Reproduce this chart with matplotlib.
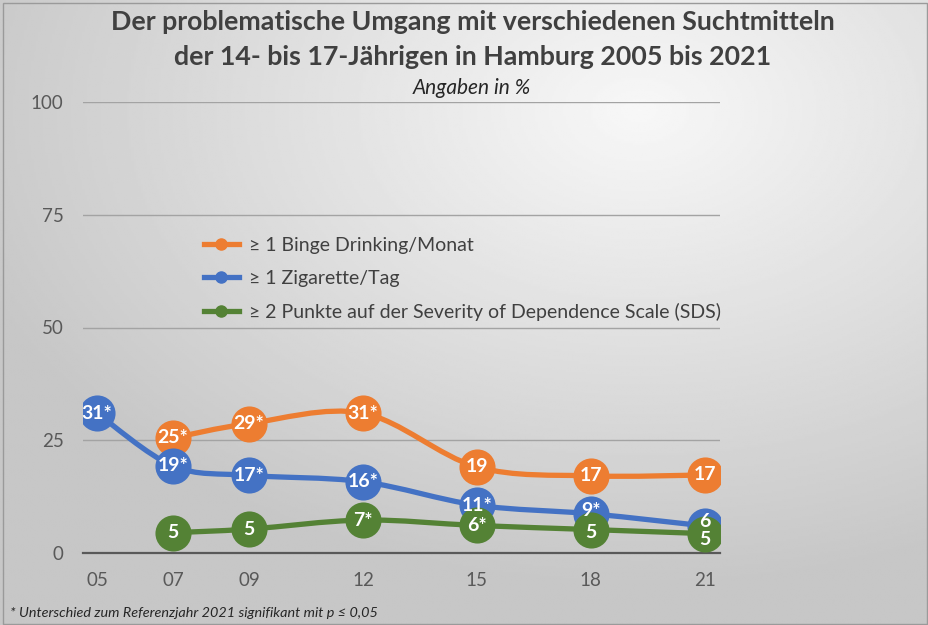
import numpy as np
import matplotlib
matplotlib.use("Agg")
import matplotlib.pyplot as plt
from matplotlib.path import Path
from matplotlib.patches import PathPatch, Rectangle
from matplotlib.lines import Line2D
import matplotlib.transforms as mtransforms

plt.rcParams['font.family'] = ['Lato', 'DejaVu Sans']

# Data (survey years, values in %)
years = [2005, 2007, 2009, 2012, 2015, 2018, 2021]
year_labels = ['05', '07', '09', '12', '15', '18', '21']

binge_years = [2007, 2009, 2012, 2015, 2018, 2021]
binge = [25.5, 28.7, 31.0, 19.1, 17.1, 17.3]
binge_labels = ['25*', '29*', '31*', '19', '17', '17']

cig_years = [2005, 2007, 2009, 2012, 2015, 2018, 2021]
cig = [31.0, 19.3, 17.2, 15.8, 10.6, 8.7, 6.0]
cig_labels = ['31*', '19*', '17*', '16*', '11*', '9*', '6']

sds_years = [2007, 2009, 2012, 2015, 2018, 2021]
sds = [4.5, 5.3, 7.3, 6.1, 5.2, 4.3]
sds_labels = ['5', '5', '7*', '6*', '5', '5']

c_orange = '#ED7D31'
c_blue = '#4472C4'
c_green = '#548235'
c_text = '#595959'


def smooth_path(xs, ys):
    # Excel-like smoothed line: Catmull-Rom segments as cubic Bezier curves
    p = np.column_stack([xs, ys]).astype(float)
    n = len(p)
    verts = [p[0]]
    codes = [Path.MOVETO]
    for i in range(n - 1):
        p0 = p[i - 1] if i > 0 else p[i]
        p3 = p[i + 2] if i + 2 < n else p[i + 1]
        c1 = p[i] + (p[i + 1] - p0) / 6.0
        c2 = p[i + 1] - (p3 - p[i]) / 6.0
        verts += [c1, c2, p[i + 1]]
        codes += [Path.CURVE4] * 3
    return Path(verts, codes)


fig = plt.figure(figsize=(9.29, 6.25), dpi=100)

# gradient background
bg = fig.add_axes([0, 0, 1, 1], zorder=-10)
gx, gy = np.meshgrid(np.linspace(0, 929, 400), np.linspace(0, 625, 300))
d = np.sqrt(((gx - 640) / 929) ** 2 + ((gy - 110) / 625) ** 2)
shade = np.clip(0.97 - 0.25 * d, 0.78, 0.97)
bg.imshow(shade, cmap='gray', vmin=0, vmax=1, extent=[0, 929, 625, 0], aspect='auto')
bg.set_xlim(0, 929)
bg.set_ylim(625, 0)
bg.axis('off')
bg.add_patch(Rectangle((3.5, 2.5), 924, 621, fill=False, edgecolor='#9a9a9a', linewidth=1.0))

ax = fig.add_axes([83 / 929, 72 / 625, 637 / 929, 451 / 625])
ax.patch.set_alpha(0)
ax.set_xlim(2004.63, 2021.4)
ax.set_ylim(0, 100)

ax.set_yticks([0, 25, 50, 75, 100])
ax.set_xticks(years)
ax.set_xticklabels(year_labels)
ax.tick_params(axis='both', length=0, labelsize=13.5, colors=c_text)
ax.tick_params(axis='y', pad=14)
ax.tick_params(axis='x', pad=14)
ax.grid(axis='y', color='#a3a3a3', linewidth=1.0)
ax.set_axisbelow(True)
for s in ['top', 'right', 'left']:
    ax.spines[s].set_visible(False)
ax.spines['bottom'].set_color('#595959')
ax.spines['bottom'].set_linewidth(1.6)

series = [
    (binge_years, binge, binge_labels, c_orange, 3),
    (cig_years, cig, cig_labels, c_blue, 4),
    (sds_years, sds, sds_labels, c_green, 5),
]
for xs, ys, labs, col, z in series:
    ax.add_patch(PathPatch(smooth_path(xs, ys), facecolor='none', edgecolor=col,
                           linewidth=3.8, zorder=z, capstyle='round'))
    ax.plot(xs, ys, linestyle='none', marker='o', markersize=26, color=col,
            markeredgewidth=0, zorder=z)

# small vertical nudges (points) where labels would collide
nudge = {(c_blue, 2021): 3, (c_green, 2021): -4, (c_blue, 2018): 2, (c_green, 2018): -2}
for xs, ys, labs, col, z in series:
    for x, y, t in zip(xs, ys, labs):
        off = mtransforms.offset_copy(ax.transData, fig=fig, x=0,
                                      y=nudge.get((col, x), 0), units='points')
        ax.text(x, y, t, ha='center', va='center', color='white', fontsize=14,
                fontweight='bold', zorder=10, transform=off)

handles = [
    Line2D([], [], color=c_orange, linewidth=3.8, marker='o', markersize=8),
    Line2D([], [], color=c_blue, linewidth=3.8, marker='o', markersize=8),
    Line2D([], [], color=c_green, linewidth=3.8, marker='o', markersize=8),
]
names = ['≥ 1 Binge Drinking/Monat', '≥ 1 Zigarette/Tag',
         '≥ 2 Punkte auf der Severity of Dependence Scale (SDS)']
fig.legend(handles, names, loc='upper left', bbox_to_anchor=(196 / 929, 1 - 229 / 625),
           frameon=False, fontsize=14, labelcolor='#404040', handlelength=1.8,
           handletextpad=0.55, labelspacing=0.82, borderaxespad=0)

fig.text(473 / 929, 1 - 22 / 625, 'Der problematische Umgang mit verschiedenen Suchtmitteln',
         ha='center', va='center', fontsize=19.3, fontweight='bold', color='#404040')
fig.text(473 / 929, 1 - 57 / 625, 'der 14- bis 17-Jährigen in Hamburg 2005 bis 2021',
         ha='center', va='center', fontsize=19.3, fontweight='bold', color='#404040')
fig.text(472 / 929, 1 - 88 / 625, 'Angaben in %', ha='center', va='center',
         fontsize=15, style='italic', color='#262626')
fig.text(10 / 929, 1 - 613 / 625, '* Unterschied zum Referenzjahr 2021 signifikant mit p ≤ 0,05',
         ha='left', va='center', fontsize=10.4, style='italic', color='#262626')

fig.savefig('out.png', dpi=100)
